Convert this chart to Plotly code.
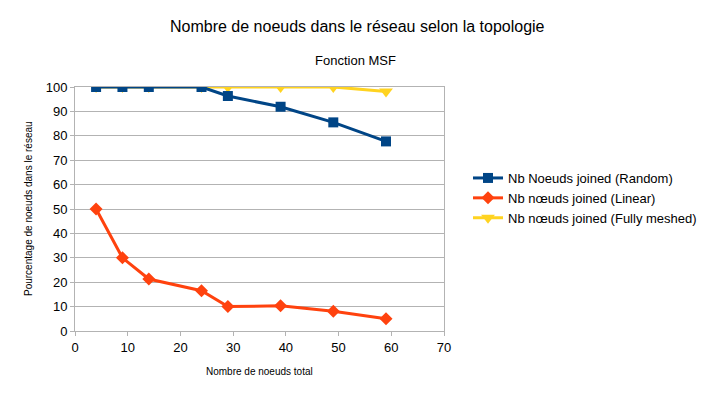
import plotly.graph_objects as go

x_nodes = [4, 9, 14, 24, 29, 39, 49, 59]
random_vals = [100, 100, 100, 100, 96.3, 91.9, 85.5, 77.7]
linear_vals = [50, 30, 21.3, 16.5, 10, 10.3, 8.1, 5.0]
meshed_vals = [100, 100, 100, 100, 100, 100, 100, 98.2]

names = ["Nb Noeuds joined (Random)", "Nb nœuds joined (Linear)", "Nb nœuds joined (Fully meshed)"]
colors = ["#004586", "#ff420e", "#ffd320"]

fig = go.Figure()
fig.add_trace(go.Scatter(x=x_nodes, y=meshed_vals, name=names[2], mode="lines+markers",
                         line=dict(color=colors[2], width=3),
                         marker=dict(symbol="triangle-down", size=12, color=colors[2]),
                         legendrank=3))
fig.add_trace(go.Scatter(x=x_nodes, y=random_vals, name=names[0], mode="lines+markers",
                         line=dict(color=colors[0], width=3),
                         marker=dict(symbol="square", size=10, color=colors[0]),
                         legendrank=1))
fig.add_trace(go.Scatter(x=x_nodes, y=linear_vals, name=names[1], mode="lines+markers",
                         line=dict(color=colors[1], width=3),
                         marker=dict(symbol="diamond", size=10, color=colors[1]),
                         legendrank=2))

# page body has an 8px margin, so work in reference pixels shifted by OFF
OFF = 8
W, H = 706 - OFF, 397 - OFF
ML, MT = 75 - OFF, 87 - OFF
MR = W - (444 - OFF)
MB = H - (331 - OFF)
pw = W - ML - MR
ph = H - MT - MB

def px_x(x):
    return (x - OFF - ML) / pw

def px_y(y):
    return (H - MB - (y - OFF)) / ph

font = "Liberation Sans, Arial, sans-serif"
fig.update_layout(
    width=W, height=H,
    margin=dict(l=ML, r=MR, t=MT, b=MB, autoexpand=False),
    paper_bgcolor="white", plot_bgcolor="white",
    font=dict(family=font, size=13, color="#000000"),
    showlegend=True,
    legend=dict(x=px_x(468), y=px_y(198), xanchor="left", yanchor="middle",
                font=dict(size=13), traceorder="normal", itemwidth=30,
                tracegroupgap=0, bgcolor="rgba(0,0,0,0)"),
    annotations=[
        dict(text="Nombre de noeuds dans le réseau selon la topologie", x=px_x(357), y=px_y(27),
             xref="paper", yref="paper", xanchor="center", yanchor="middle",
             showarrow=False, font=dict(size=16)),
        dict(text="Fonction MSF", x=px_x(355), y=px_y(60), xref="paper", yref="paper",
             xanchor="center", yanchor="middle", showarrow=False, font=dict(size=13)),
        dict(text="Nombre de noeuds total", x=px_x(259), y=px_y(371), xref="paper", yref="paper",
             xanchor="center", yanchor="middle", showarrow=False, font=dict(size=10)),
        dict(text="Pourcentage de noeuds dans le réseau", x=px_x(28), y=px_y(209), xref="paper",
             yref="paper", xanchor="center", yanchor="middle", textangle=-90,
             showarrow=False, font=dict(size=10)),
    ],
    xaxis=dict(range=[0, 70], dtick=10, showgrid=False, showline=True, linecolor="#b3b3b3",
               mirror=True, ticks="outside", ticklen=4, tickcolor="#b3b3b3", zeroline=False,
               automargin=False),
    yaxis=dict(range=[0, 100], dtick=10, showgrid=True, gridcolor="#b3b3b3", showline=True,
               linecolor="#b3b3b3", mirror=True, ticks="outside", ticklen=4, tickcolor="#b3b3b3",
               zeroline=False, automargin=False),
)

fig.write_html("out.html")
